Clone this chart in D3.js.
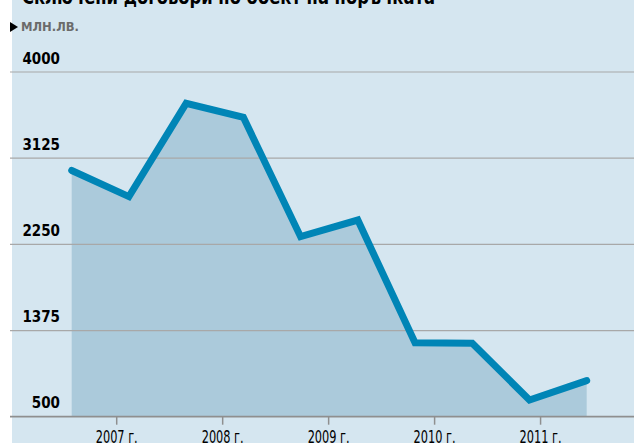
<!DOCTYPE html>
<html><head><meta charset="utf-8">
<script src="https://cdn.jsdelivr.net/npm/d3@7"></script>
<style>
html,body{margin:0;padding:0;background:#fff;}
svg{display:block;}
</style></head>
<body>
<svg id="c" width="634" height="443"></svg>
<script>
// Data
const periods = [2006.58, 2007.12, 2007.66, 2008.20, 2008.74, 2009.28, 2009.82, 2010.36, 2010.90, 2011.44];
const values  = [3000, 2735, 3682, 3540, 2328, 2497, 1251, 1245, 670, 866];
const yTicks = [500, 1375, 2250, 3125, 4000];
const xTicks = [2007, 2008, 2009, 2010, 2011];
const xTickLabels = ["2007 г.", "2008 г.", "2009 г.", "2010 г.", "2011 г."];
const title = "Сключени договори по обект на поръчката";
const unit = "МЛН.ЛВ.";

const svg = d3.select("#c");
const W = 634, H = 443;
const condensed = "'Liberation Sans Narrow','DejaVu Sans Condensed','Roboto Condensed',sans-serif";

svg.append("rect").attr("x", 12).attr("y", 0).attr("width", W - 12).attr("height", H).attr("fill", "#d5e6f0");

const x = d3.scaleLinear().domain([periods[0], periods[periods.length - 1]]).range([71.7, 586.7]);
const y = d3.scaleLinear().domain([500, 4000]).range([416.7, 72]);

// title
svg.append("text").attr("x", 22).attr("y", 4)
  .attr("font-family", condensed).attr("font-weight", "bold").attr("font-size", 22)
  .attr("textLength", 413).attr("lengthAdjust", "spacingAndGlyphs")
  .attr("fill", "#000").text(title);

// unit
svg.append("path").attr("d", "M10,22 L18,27 L10,32 Z").attr("fill", "#000");
svg.append("text").attr("x", 21).attr("y", 30.5)
  .attr("font-family", condensed).attr("font-weight", "bold").attr("font-size", 13)
  .attr("textLength", 58).attr("lengthAdjust", "spacingAndGlyphs")
  .attr("fill", "#6b6b6b").text(unit);

// area
const area = d3.area().x((d, i) => x(periods[i])).y0(y(500)).y1(d => y(d));
svg.append("path").datum(values).attr("d", area).attr("fill", "#abcadb");

// gridlines
svg.append("g").selectAll("line").data(yTicks.filter(v => v !== 500)).join("line")
  .attr("x1", 10).attr("x2", W).attr("y1", d => y(d)).attr("y2", d => y(d))
  .attr("stroke", "#a8a8a8").attr("stroke-width", 1.2);

// y labels
svg.append("g").selectAll("text").data(yTicks).join("text")
  .attr("x", 60).attr("y", d => y(d) - 8.5).attr("text-anchor", "end")
  .attr("font-family", condensed).attr("font-weight", "bold").attr("font-size", 15)
  .attr("fill", "#000").text(d => d);

// line
const line = d3.line().x((d, i) => x(periods[i])).y(d => y(d)).curve(d3.curveLinear);
svg.append("path").datum(values).attr("d", line).attr("fill", "none")
  .attr("stroke", "#0085b6").attr("stroke-width", 7)
  .attr("stroke-linejoin", "miter").attr("stroke-linecap", "round");

// x axis
const xAxis = d3.axisBottom(x).tickValues(xTicks).tickSize(8).tickSizeOuter(0)
  .tickFormat((d, i) => xTickLabels[i]);
const gx = svg.append("g").attr("transform", `translate(0,${y(500)})`).call(xAxis);
gx.select(".domain").remove();
gx.selectAll(".tick line").attr("stroke", "#8f8f8f").attr("stroke-width", 1.5);
gx.selectAll(".tick text").attr("font-family", condensed).attr("font-size", 17)
  .attr("textLength", 42).attr("lengthAdjust", "spacingAndGlyphs")
  .attr("fill", "#000").attr("dy", 0).attr("y", 26.5);
svg.append("line").attr("x1", 10).attr("x2", W).attr("y1", y(500)).attr("y2", y(500))
  .attr("stroke", "#8f8f8f").attr("stroke-width", 1.8);
</script>
</body></html>
